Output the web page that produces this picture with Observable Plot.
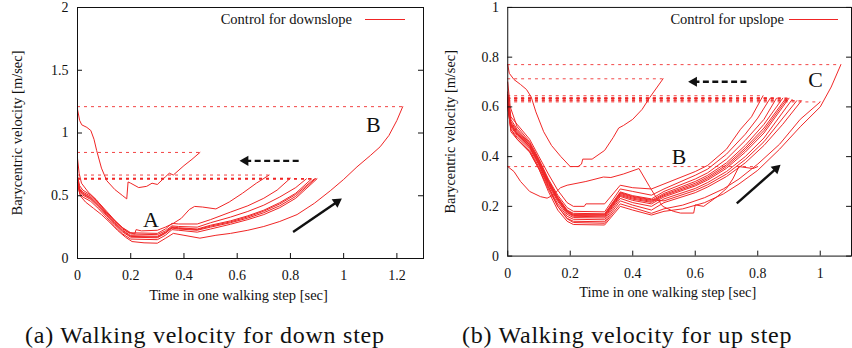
<!DOCTYPE html>
<html><head><meta charset="utf-8">
<script src="https://cdn.jsdelivr.net/npm/d3@7"></script>
<script src="https://cdn.jsdelivr.net/npm/@observablehq/plot@0.6"></script>
<style>
html,body{margin:0;padding:0;background:#fff;}
#wrap{position:relative;width:852px;height:348px;overflow:hidden;background:#fff;}
.panel{position:absolute;top:0;}
.cap{position:absolute;top:323px;font-family:"Liberation Serif","Times New Roman",Times,serif;font-size:24px;line-height:24px;letter-spacing:0.75px;white-space:nowrap;color:#111;}
.leg{position:absolute;font-family:"Liberation Serif","Times New Roman",Times,serif;font-size:14.5px;line-height:16px;white-space:nowrap;text-align:right;color:#111;}
.legline{position:absolute;height:0;border-top:1px solid #f02525;}
</style></head>
<body>
<div id="wrap">
  <div id="pa" class="panel" style="left:0"></div>
  <div id="pb" class="panel" style="left:426px"></div>
  <div class="leg" style="left:150px;width:202px;top:11px">Control for downslope</div>
  <div class="legline" style="left:365px;width:40px;top:19px"></div>
  <div class="leg" style="left:576px;width:208px;top:11px">Control for upslope</div>
  <div class="legline" style="left:789px;width:49px;top:19px"></div>
  <div class="cap" style="left:25px">(a) Walking velocity for down step</div>
  <div class="cap" style="left:462px">(b) Walking velocity for up step</div>
</div>
<script>
const RED = "#f02525";
const FONT = '"Liberation Serif", "Times New Roman", Times, serif';

// ---------- Panel (a): downslope ----------
const downXTicks = [0, 0.2, 0.4, 0.6, 0.8, 1, 1.2];
const downYTicks = [0, 0.5, 1, 1.5, 2];
const downB = [[0,0.6],[0.01,0.5],[0.03,0.45],[0.06,0.4],[0.09,0.35],[0.12,0.29],[0.15,0.225],[0.18,0.17],[0.205,0.135],[0.25,0.125],[0.3,0.122],[0.33,0.16],[0.36,0.2],[0.4,0.185],[0.46,0.162],[0.52,0.185],[0.575,0.2],[0.64,0.225],[0.7,0.255],[0.76,0.295],[0.825,0.35],[0.89,0.44],[0.95,0.54],[1.0,0.63],[1.05,0.73],[1.1,0.82],[1.137,0.89],[1.17,0.98],[1.2,1.1],[1.222,1.21]];
const downShort = [[0,1.19],[0.008,1.1],[0.016,1.065],[0.035,1.045],[0.05,1.02],[0.062,0.95],[0.072,0.86],[0.09,0.72],[0.11,0.62],[0.14,0.55],[0.17,0.5],[0.185,0.475],[0.19,0.61],[0.2,0.6],[0.23,0.565],[0.26,0.575],[0.28,0.6],[0.3,0.59],[0.33,0.65],[0.345,0.68],[0.36,0.665],[0.4,0.74],[0.43,0.79],[0.46,0.845]];
const down3 = [[0,0.8],[0.006,0.68],[0.015,0.6],[0.04,0.53],[0.07,0.47],[0.1,0.39],[0.13,0.32],[0.16,0.26],[0.19,0.21],[0.215,0.195],[0.22,0.23],[0.24,0.22],[0.3,0.225],[0.33,0.25],[0.36,0.28],[0.39,0.32],[0.42,0.39],[0.44,0.415],[0.47,0.41],[0.52,0.395],[0.57,0.45],[0.62,0.52],[0.672,0.6],[0.72,0.665]];
const down4 = [[0,0.66],[0.008,0.58],[0.02,0.545],[0.05,0.505],[0.08,0.445],[0.11,0.375],[0.14,0.305],[0.17,0.245],[0.2,0.205],[0.3,0.2],[0.33,0.235],[0.355,0.28],[0.38,0.275],[0.45,0.275],[0.5,0.31],[0.575,0.37],[0.64,0.42],[0.7,0.48],[0.75,0.545],[0.8,0.64]];
const down5 = [[0,0.64],[0.008,0.56],[0.02,0.53],[0.05,0.495],[0.08,0.435],[0.11,0.365],[0.14,0.295],[0.17,0.235],[0.2,0.195],[0.3,0.19],[0.33,0.22],[0.355,0.26],[0.38,0.255],[0.45,0.25],[0.5,0.285],[0.575,0.33],[0.64,0.375],[0.7,0.425],[0.76,0.49],[0.82,0.565],[0.86,0.635]];
const down6 = [[0,0.63],[0.008,0.55],[0.02,0.52],[0.05,0.485],[0.08,0.425],[0.11,0.355],[0.14,0.285],[0.17,0.225],[0.2,0.182],[0.3,0.177],[0.33,0.21],[0.355,0.252],[0.38,0.245],[0.45,0.235],[0.5,0.265],[0.575,0.3],[0.64,0.34],[0.7,0.385],[0.76,0.445],[0.82,0.52],[0.88,0.635]];
const down7 = [[0,0.625],[0.008,0.54],[0.02,0.515],[0.05,0.478],[0.08,0.418],[0.11,0.348],[0.14,0.278],[0.17,0.218],[0.2,0.176],[0.3,0.171],[0.33,0.205],[0.355,0.247],[0.38,0.24],[0.45,0.23],[0.5,0.258],[0.575,0.292],[0.64,0.332],[0.7,0.377],[0.76,0.435],[0.82,0.51],[0.89,0.635]];
const down8 = [[0,0.615],[0.008,0.53],[0.02,0.505],[0.05,0.47],[0.08,0.41],[0.11,0.34],[0.14,0.27],[0.17,0.21],[0.2,0.17],[0.3,0.165],[0.33,0.2],[0.355,0.242],[0.38,0.235],[0.45,0.225],[0.5,0.25],[0.575,0.285],[0.64,0.322],[0.7,0.365],[0.76,0.42],[0.82,0.495],[0.894,0.635]];
const down9 = [[0,0.6],[0.008,0.52],[0.02,0.49],[0.05,0.455],[0.08,0.395],[0.11,0.325],[0.14,0.255],[0.17,0.195],[0.2,0.155],[0.3,0.15],[0.33,0.185],[0.355,0.23],[0.38,0.225],[0.45,0.21],[0.5,0.235],[0.575,0.273],[0.64,0.31],[0.7,0.35],[0.76,0.405],[0.82,0.48],[0.9,0.635]];
const downLabels = [{s:"A", t:0.276, v:0.306}, {s:"B", t:1.112, v:1.062}];
const downArrows = [{t1:0.831, v1:0.778, t2:0.631, v2:0.778, dashed:true}, {t1:0.81, v1:0.212, t2:0.975, v2:0.451, dashed:false}];

// ---------- Panel (b): upslope ----------
const upXTicks = [0, 0.2, 0.4, 0.6, 0.8, 1];
const upYTicks = [0, 0.2, 0.4, 0.6, 0.8, 1];
const upC = [[0,0.6],[0.01,0.51],[0.03,0.47],[0.07,0.42],[0.1,0.35],[0.13,0.26],[0.16,0.185],[0.19,0.14],[0.21,0.127],[0.31,0.125],[0.36,0.2],[0.4,0.185],[0.46,0.165],[0.5,0.18],[0.56,0.19],[0.63,0.215],[0.69,0.25],[0.74,0.29],[0.8,0.345],[0.87,0.43],[0.936,0.52],[1.0,0.6],[1.035,0.68],[1.066,0.77]];
const upD = [[0,0.63],[0.01,0.53],[0.03,0.49],[0.07,0.44],[0.1,0.37],[0.13,0.28],[0.16,0.2],[0.19,0.15],[0.21,0.135],[0.31,0.132],[0.36,0.21],[0.4,0.195],[0.46,0.172],[0.5,0.19],[0.56,0.205],[0.63,0.235],[0.69,0.27],[0.74,0.31],[0.8,0.37],[0.87,0.45],[0.936,0.55],[1.0,0.62]];
const upShort = [[0,0.77],[0.005,0.735],[0.02,0.71],[0.041,0.69],[0.06,0.67],[0.075,0.64],[0.09,0.58],[0.115,0.5],[0.14,0.445],[0.17,0.4],[0.2,0.36],[0.225,0.36],[0.236,0.37],[0.24,0.39],[0.27,0.39],[0.31,0.425],[0.337,0.476],[0.355,0.515],[0.37,0.525],[0.4,0.55],[0.43,0.59],[0.454,0.637],[0.497,0.713]];
const upB = [[0,0.36],[0.02,0.34],[0.041,0.3],[0.07,0.26],[0.105,0.239],[0.126,0.233],[0.145,0.245],[0.169,0.275],[0.19,0.285],[0.25,0.3],[0.306,0.318],[0.33,0.316],[0.37,0.33],[0.42,0.352],[0.454,0.279],[0.47,0.246],[0.496,0.2],[0.53,0.18],[0.553,0.173],[0.595,0.173],[0.6,0.206],[0.627,0.2],[0.67,0.239],[0.7,0.272],[0.72,0.31],[0.74,0.36],[0.785,0.352],[0.8,0.36]];
const up1 = [[0,0.65],[0.01,0.56],[0.03,0.53],[0.07,0.47],[0.1,0.4],[0.13,0.33],[0.16,0.265],[0.19,0.215],[0.21,0.2],[0.245,0.2],[0.25,0.21],[0.31,0.21],[0.36,0.285],[0.4,0.275],[0.46,0.27],[0.5,0.29],[0.6,0.34],[0.64,0.365],[0.7,0.43],[0.745,0.51],[0.78,0.56],[0.817,0.645]];
const up2 = [[0,0.7],[0.008,0.6],[0.03,0.52],[0.07,0.46],[0.1,0.39],[0.13,0.31],[0.16,0.245],[0.19,0.195],[0.21,0.18],[0.31,0.178],[0.36,0.27],[0.4,0.26],[0.46,0.245],[0.5,0.27],[0.6,0.325],[0.64,0.35],[0.7,0.41],[0.76,0.49],[0.8,0.555],[0.84,0.635]];
const up3 = [[0,0.66],[0.01,0.55],[0.03,0.51],[0.07,0.455],[0.1,0.385],[0.13,0.305],[0.16,0.238],[0.19,0.185],[0.21,0.172],[0.31,0.17],[0.36,0.258],[0.4,0.243],[0.46,0.23],[0.5,0.26],[0.6,0.31],[0.64,0.335],[0.7,0.39],[0.76,0.465],[0.82,0.55],[0.86,0.635]];
const up4 = [[0,0.64],[0.01,0.535],[0.03,0.5],[0.07,0.448],[0.1,0.38],[0.13,0.3],[0.16,0.232],[0.19,0.18],[0.21,0.166],[0.31,0.165],[0.36,0.252],[0.4,0.237],[0.46,0.224],[0.5,0.252],[0.6,0.3],[0.64,0.325],[0.7,0.375],[0.76,0.445],[0.82,0.53],[0.88,0.635]];
const up5 = [[0,0.63],[0.01,0.53],[0.03,0.495],[0.07,0.443],[0.1,0.376],[0.13,0.296],[0.16,0.228],[0.19,0.177],[0.21,0.163],[0.31,0.162],[0.36,0.248],[0.4,0.233],[0.46,0.22],[0.5,0.247],[0.6,0.293],[0.64,0.318],[0.7,0.367],[0.76,0.435],[0.82,0.515],[0.89,0.635]];
const up6 = [[0,0.62],[0.01,0.525],[0.03,0.49],[0.07,0.438],[0.1,0.372],[0.13,0.292],[0.16,0.225],[0.19,0.174],[0.21,0.16],[0.31,0.158],[0.36,0.244],[0.4,0.229],[0.46,0.216],[0.5,0.243],[0.6,0.287],[0.64,0.312],[0.7,0.36],[0.76,0.427],[0.82,0.505],[0.895,0.635]];
const up7 = [[0,0.61],[0.01,0.52],[0.03,0.485],[0.07,0.433],[0.1,0.366],[0.13,0.287],[0.16,0.22],[0.19,0.168],[0.21,0.155],[0.31,0.153],[0.36,0.24],[0.4,0.224],[0.46,0.21],[0.5,0.238],[0.6,0.282],[0.64,0.306],[0.7,0.353],[0.76,0.418],[0.82,0.495],[0.9,0.635]];
const up8 = [[0,0.6],[0.01,0.51],[0.03,0.478],[0.07,0.425],[0.1,0.358],[0.13,0.278],[0.16,0.21],[0.19,0.16],[0.21,0.148],[0.31,0.146],[0.36,0.232],[0.4,0.215],[0.46,0.2],[0.5,0.23],[0.6,0.272],[0.64,0.296],[0.7,0.34],[0.76,0.4],[0.82,0.475],[0.91,0.63]];
const up9 = [[0,0.62],[0.01,0.5],[0.03,0.47],[0.07,0.418],[0.1,0.35],[0.13,0.27],[0.16,0.2],[0.19,0.152],[0.21,0.14],[0.31,0.138],[0.36,0.222],[0.4,0.205],[0.46,0.185],[0.5,0.215],[0.6,0.255],[0.64,0.278],[0.7,0.32],[0.76,0.375],[0.82,0.445],[0.88,0.53],[0.94,0.625]];
const up10 = [[0,0.64],[0.01,0.54],[0.03,0.505],[0.07,0.45],[0.1,0.383],[0.13,0.303],[0.16,0.235],[0.19,0.183],[0.21,0.168],[0.31,0.168],[0.36,0.255],[0.4,0.24],[0.46,0.227],[0.5,0.222],[0.6,0.264],[0.64,0.287],[0.7,0.33],[0.76,0.388],[0.82,0.46],[0.925,0.625]];
const upLabels = [{s:"B", t:0.548, v:0.398}, {s:"C", t:0.985, v:0.71}];
const upArrows = [{t1:0.764, v1:0.701, t2:0.596, v2:0.701, dashed:true}, {t1:0.733, v1:0.212, t2:0.859, v2:0.352, dashed:false}];

const X_TITLE = "Time in one walking step [sec]";
const Y_TITLE = "Barycentric velocity [m/sec]";

function toRows(curves) { return curves.flatMap((c, i) => c.map(([t, v]) => ({id: i, t, v}))); }
function ends(curves) { return curves.map(c => { const [t, v] = c[c.length - 1]; return {t, v}; }); }

function panel({curves, xDomain, xTicks, yDomain, yTicks, width, marginLeft, marginRight, arrows, labels, yTitleDx}) {
  const height = 305, marginTop = 7, marginBottom = 47;
  const innerW = width - marginLeft - marginRight, innerH = height - marginTop - marginBottom;
  const kx = innerW / (xDomain[1] - xDomain[0]), ky = innerH / (yDomain[1] - yDomain[0]);
  const heads = arrows.map(a => ({...a, rot: Math.atan2((a.t2 - a.t1) * kx, (a.v2 - a.v1) * ky) * 180 / Math.PI}));
  const fmt = d => String(d);
  return Plot.plot({
    width, height, marginLeft, marginRight, marginTop, marginBottom,
    style: {fontFamily: FONT, fontSize: "14px", background: "transparent", color: "#111", overflow: "visible"},
    x: {domain: xDomain},
    y: {domain: yDomain},
    marks: [
      Plot.ruleY(ends(curves), {y: "v", x1: () => 0, x2: "t", stroke: RED, strokeWidth: 1, strokeDasharray: "3,4", strokeOpacity: 0.85}),
      Plot.line(toRows(curves), {x: "t", y: "v", z: "id", stroke: RED, strokeWidth: 1, curve: "linear"}),
      Plot.frame({stroke: "#111", strokeWidth: 1}),
      Plot.tickX(xTicks, {x: d => d, insetTop: innerH - 5, stroke: "#111"}),
      Plot.tickY(yTicks, {y: d => d, insetRight: innerW - 5, stroke: "#111"}),
      Plot.tickY(yTicks, {y: d => d, insetLeft: innerW - 5, stroke: "#111"}),
      Plot.axisX({ticks: xTicks, tickSize: 0, tickPadding: 12, tickFormat: fmt, label: null, fontSize: 14, fontFamily: FONT}),
      Plot.axisY({ticks: yTicks, tickSize: 0, tickPadding: 9, tickFormat: fmt, label: null, fontSize: 14, fontFamily: FONT}),
      Plot.link(heads.filter(d => d.dashed), {x1: "t1", y1: "v1", x2: "t2", y2: "v2", stroke: "#111", strokeWidth: 2.4, strokeDasharray: "6,3.5"}),
      Plot.link(heads.filter(d => !d.dashed), {x1: "t1", y1: "v1", x2: "t2", y2: "v2", stroke: "#111", strokeWidth: 2.4}),
      Plot.dot(heads, {x: "t2", y: "v2", symbol: "triangle", r: 3.8, fill: "#111", stroke: "none", rotate: "rot"}),
      Plot.text(labels, {x: "t", y: "v", text: "s", fontSize: 22, fill: "#111", fontFamily: FONT}),
      Plot.text([X_TITLE], {text: d => d, frameAnchor: "bottom", lineAnchor: "middle", textAnchor: "middle", dy: 37, dx: -12, fontSize: 14.5, fill: "#111", fontFamily: FONT}),
      Plot.text([Y_TITLE], {text: d => d, frameAnchor: "left", lineAnchor: "middle", textAnchor: "middle", rotate: -90, dx: yTitleDx, fontSize: 14.5, fill: "#111", fontFamily: FONT})
    ]
  });
}

document.getElementById("pa").append(panel({
  curves: [downB, downShort, down3, down4, down5, down6, down7, down8, down9],
  xDomain: [0, 1.3], xTicks: downXTicks, yDomain: [0, 2], yTicks: downYTicks,
  width: 426, marginLeft: 77, marginRight: 3, arrows: downArrows, labels: downLabels, yTitleDx: -60
}));
document.getElementById("pb").append(panel({
  curves: [upC, upD, upShort, upB, up1, up2, up3, up4, up5, up6, up7, up8, up9, up10],
  xDomain: [0, 1.1], xTicks: upXTicks, yDomain: [0, 1], yTicks: upYTicks,
  width: 430, marginLeft: 82, marginRight: 1, arrows: upArrows, labels: upLabels, yTitleDx: -58
}));
</script>
</body></html>
